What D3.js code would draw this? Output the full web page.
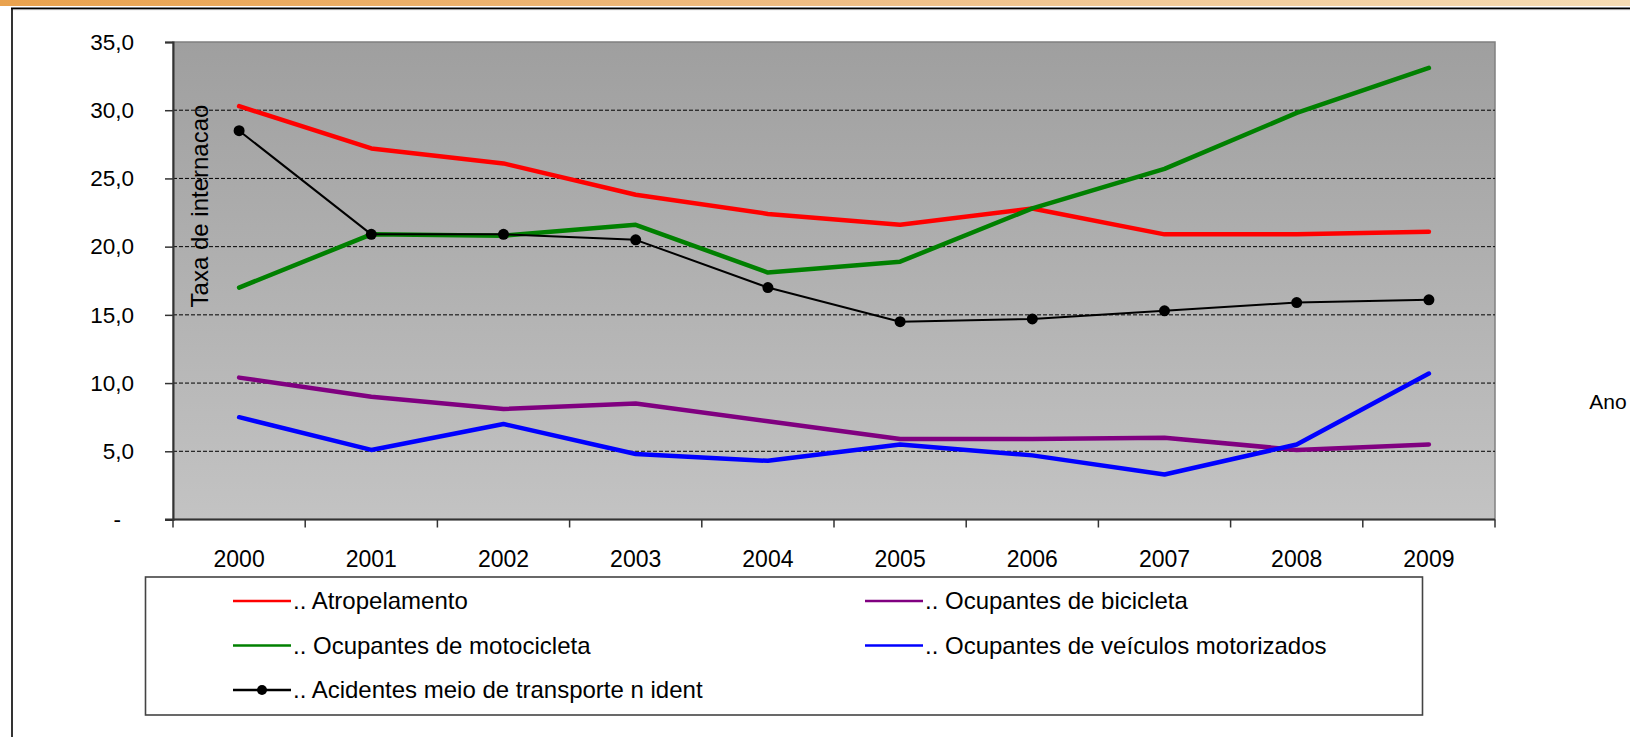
<!DOCTYPE html>
<html>
<head>
<meta charset="utf-8">
<script src="https://cdn.jsdelivr.net/npm/d3@7"></script>
<style>
  html, body { margin: 0; padding: 0; background: #fff; }
  svg { display: block; font-family: "Liberation Sans", Arial, sans-serif; }
</style>
</head>
<body>
<svg id="chart" width="1630" height="737"></svg>
<script>
// ---- Data ----
const years = ["2000","2001","2002","2003","2004","2005","2006","2007","2008","2009"];
const atropelamento = [30.3, 27.2, 26.1, 23.8, 22.4, 21.6, 22.8, 20.9, 20.9, 21.1];
const motocicleta   = [17.0, 20.9, 20.8, 21.6, 18.1, 18.9, 22.8, 25.7, 29.8, 33.1];
const naoIdent      = [28.5, 20.9, 20.9, 20.5, 17.0, 14.5, 14.7, 15.3, 15.9, 16.1];
const bicicleta     = [10.4,  9.0,  8.1,  8.5,  7.2,  5.9,  5.9,  6.0,  5.1,  5.5];
const veiculos      = [ 7.5,  5.1,  7.0,  4.8,  4.3,  5.5,  4.7,  3.3,  5.5, 10.7];
const yTickValues = [0, 5, 10, 15, 20, 25, 30, 35];
const yTickLabels = ["-", "5,0", "10,0", "15,0", "20,0", "25,0", "30,0", "35,0"];
const seriesNames = [".. Atropelamento", ".. Ocupantes de bicicleta", ".. Ocupantes de motocicleta",
                     ".. Ocupantes de veículos motorizados", ".. Acidentes meio de transporte n ident"];
const yTitle = "Taxa de internacao";
const xTitle = "Ano";

const series = [
  { name: seriesNames[0], values: atropelamento, color: "#ff0000", width: 4.5, marker: false },
  { name: seriesNames[1], values: bicicleta,     color: "#800080", width: 4.5, marker: false },
  { name: seriesNames[2], values: motocicleta,   color: "#008000", width: 4.5, marker: false },
  { name: seriesNames[3], values: veiculos,      color: "#0000ff", width: 4.5, marker: false },
  { name: seriesNames[4], values: naoIdent,      color: "#000000", width: 2,   marker: true }
];

// ---- Layout ----
const svg = d3.select("#chart");
const L = 173, R = 1495, T = 42, B = 519.5;

const defs = svg.append("defs");
const topGrad = defs.append("linearGradient").attr("id", "topGrad").attr("x1", "0").attr("x2", "1").attr("y1", "0").attr("y2", "0");
topGrad.append("stop").attr("offset", "0").attr("stop-color", "#e9a24e");
topGrad.append("stop").attr("offset", "0.5").attr("stop-color", "#efbd84");
topGrad.append("stop").attr("offset", "1").attr("stop-color", "#f6dcb4");
const plotGrad = defs.append("linearGradient").attr("id", "plotGrad").attr("x1", "0").attr("x2", "0").attr("y1", "0").attr("y2", "1");
plotGrad.append("stop").attr("offset", "0").attr("stop-color", "#9f9f9f");
plotGrad.append("stop").attr("offset", "1").attr("stop-color", "#c3c3c3");

// top decorative strip and frame
svg.append("rect").attr("x", 0).attr("y", 0).attr("width", 1630).attr("height", 6).attr("fill", "url(#topGrad)");
svg.append("line").attr("x1", 11).attr("x2", 1630).attr("y1", 9.6).attr("y2", 9.6).attr("stroke", "#999").attr("stroke-width", 1);
svg.append("line").attr("x1", 11).attr("x2", 1630).attr("y1", 8.3).attr("y2", 8.3).attr("stroke", "#000").attr("stroke-width", 1.6);
svg.append("line").attr("x1", 12).attr("x2", 12).attr("y1", 8).attr("y2", 737).attr("stroke", "#000").attr("stroke-width", 1.6);

// scales
const x = d3.scaleBand().domain(years).range([L, R]).padding(0);
const y = d3.scaleLinear().domain([0, 35]).range([B, T]);
const cx = d => x(d) + x.bandwidth() / 2;

// plot area
svg.append("rect").attr("x", L).attr("y", T).attr("width", R - L).attr("height", B - T)
  .attr("fill", "url(#plotGrad)").attr("stroke", "#808080").attr("stroke-width", 1.5);

// gridlines
svg.append("g").selectAll("line").data(yTickValues.filter(v => v > 0 && v < 35)).join("line")
  .attr("x1", L).attr("x2", R).attr("y1", d => y(d)).attr("y2", d => y(d))
  .attr("stroke", "#000").attr("stroke-width", 1).attr("stroke-dasharray", "4,2");

// y axis
const yAxis = d3.axisLeft(y).tickValues(yTickValues).tickSize(8).tickPadding(31)
  .tickFormat((d, i) => yTickLabels[i]);
const gy = svg.append("g").attr("transform", `translate(${L},0)`).call(yAxis);
gy.select(".domain").attr("stroke", "#333").attr("stroke-width", 2);
gy.selectAll(".tick line").attr("stroke", "#333").attr("stroke-width", 1.5);
gy.selectAll(".tick text").attr("font-size", 22.5).attr("fill", "#000")
  .attr("font-family", "Liberation Sans, Arial, sans-serif")
  .attr("dx", (d, i) => yTickLabels[i] === "-" ? -13 : 0);

// x axis: labels centered in bands, ticks at band boundaries
const xAxis = d3.axisBottom(x).tickSize(0).tickPadding(31);
const gx = svg.append("g").attr("transform", `translate(0,${B})`).call(xAxis);
gx.select(".domain").remove();
gx.selectAll(".tick text").attr("font-size", 23).attr("fill", "#000")
  .attr("font-family", "Liberation Sans, Arial, sans-serif");
const bounds = years.map(d => x(d)).concat([x.range()[1]]);
svg.append("line").attr("x1", L - 8).attr("x2", R).attr("y1", B).attr("y2", B).attr("stroke", "#333").attr("stroke-width", 2);
svg.append("g").selectAll("line").data(bounds).join("line")
  .attr("x1", d => d).attr("x2", d => d).attr("y1", B).attr("y2", B + 8)
  .attr("stroke", "#333").attr("stroke-width", 1.5);

// lines
const lineGen = d3.line().x((d, i) => cx(years[i])).y(d => y(d));
const gl = svg.append("g");
series.forEach(s => {
  gl.append("path").datum(s.values).attr("d", lineGen)
    .attr("fill", "none").attr("stroke", s.color).attr("stroke-width", s.width)
    .attr("stroke-linejoin", "round").attr("stroke-linecap", "round");
  if (s.marker) {
    gl.append("g").selectAll("circle").data(s.values).join("circle")
      .attr("cx", (d, i) => cx(years[i])).attr("cy", d => y(d)).attr("r", 5.5).attr("fill", s.color);
  }
});

// axis titles
svg.append("text").attr("transform", `translate(208,206) rotate(-90)`)
  .attr("text-anchor", "middle").attr("font-size", 24).attr("fill", "#000").text(yTitle);
svg.append("text").attr("x", 1608).attr("y", 402).attr("dy", "0.35em")
  .attr("text-anchor", "middle").attr("font-size", 21).attr("fill", "#000").text(xTitle);

// legend
const lg = svg.append("g");
lg.append("rect").attr("x", 145.5).attr("y", 577).attr("width", 1277).attr("height", 138)
  .attr("fill", "#fff").attr("stroke", "#444").attr("stroke-width", 1.6);
const legendPos = [
  { col: 0, row: 0 }, { col: 1, row: 0 }, { col: 0, row: 1 }, { col: 1, row: 1 }, { col: 0, row: 2 }
];
const colX = [233, 865];
const rowY = [601, 645.5, 690];
series.forEach((s, i) => {
  const p = legendPos[i];
  const gx0 = colX[p.col], gy0 = rowY[p.row];
  lg.append("line").attr("x1", gx0).attr("x2", gx0 + 58).attr("y1", gy0).attr("y2", gy0)
    .attr("stroke", s.color).attr("stroke-width", 2.5);
  if (s.marker) lg.append("circle").attr("cx", gx0 + 29).attr("cy", gy0).attr("r", 5).attr("fill", s.color);
  lg.append("text").attr("x", gx0 + 60).attr("y", gy0).attr("dy", "0.35em")
    .attr("font-size", 24).attr("fill", "#000").text(s.name);
});
</script>
</body>
</html>
